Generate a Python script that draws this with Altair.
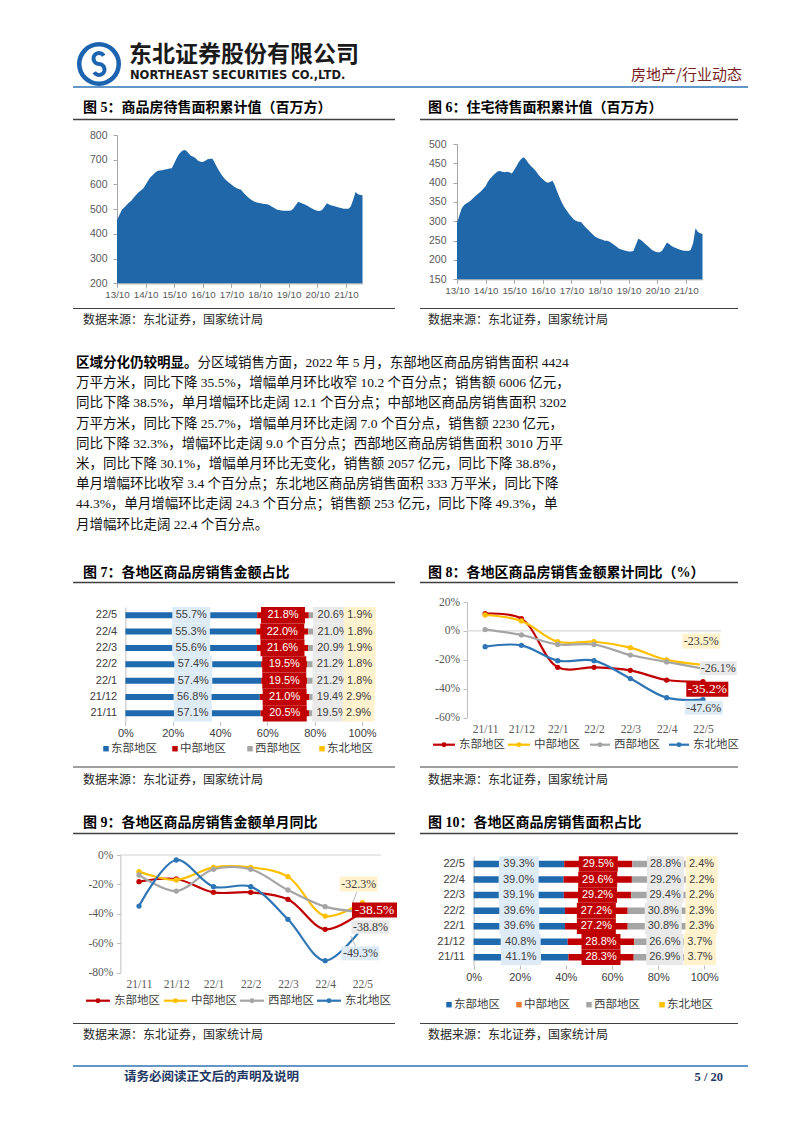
import altair as alt
import pandas as pd

# ------------------------------------------------------------------ data
months7 = ["21/11", "21/12", "22/1", "22/2", "22/3", "22/4", "22/5"]
regions = ["东部地区", "中部地区", "西部地区", "东北地区"]

stock_first_month = "2013-10-01"
stock_tick_years = [2013, 2014, 2015, 2016, 2017, 2018, 2019, 2020, 2021]
y5_ticks = [200, 300, 400, 500, 600, 700, 800]
y6_ticks = [150, 200, 250, 300, 350, 400, 450, 500]
pct_ticks = [0, 20, 40, 60, 80, 100]
cum_ticks = [-60, -40, -20, 0, 20]
mon_ticks = [-80, -60, -40, -20, 0]

# 商品房待售面积 (百万方), monthly 2013/10 - 2022/05
stock_commercial = [
    456, 476, 497,
    507, 517, 526, 534, 546, 557, 567, 575, 584, 598, 615, 629,
    638, 648, 654, 656, 657, 660, 661, 664, 665, 685, 706, 722,
    733, 739, 737, 726, 716, 712, 706, 696, 692, 691, 696, 702,
    704, 704, 688, 669, 652, 637, 625, 615, 607, 600, 592, 586,
    582, 578, 567, 557, 548, 540, 534, 529, 526, 525, 522, 521,
    520, 516, 510, 505, 499, 497, 495, 494, 494, 494, 495, 503,
    517, 530, 526, 522, 518, 513, 507, 502, 497, 494, 493, 497,
    510, 524, 519, 515, 513, 510, 507, 505, 502, 502, 502, 510,
    537, 569, 561, 557, 556]
# 住宅待售面积 (百万方)
stock_residential = [
    295, 316, 334,
    342, 347, 350, 355, 361, 367, 372, 377, 384, 391, 403, 411,
    418, 424, 429, 430, 428, 427, 428, 427, 424, 433, 443, 454,
    462, 466, 459, 450, 443, 437, 431, 422, 414, 409, 403, 400,
    402, 405, 394, 377, 362, 348, 337, 328, 319, 312, 305, 301,
    299, 298, 291, 284, 278, 272, 266, 260, 257, 254, 252, 250,
    250, 247, 243, 239, 234, 229, 227, 225, 223, 222, 222, 223,
    239, 255, 252, 247, 241, 236, 230, 225, 222, 220, 220, 224,
    234, 245, 241, 236, 233, 230, 228, 226, 224, 224, 223, 226,
    243, 282, 273, 269, 267]

# 图7 销售金额占比 (%)
amt_share_east = [57.1, 56.8, 57.4, 57.4, 55.6, 55.3, 55.7]
amt_share_central = [20.5, 21.0, 19.5, 19.5, 21.6, 22.0, 21.8]
amt_share_west = [19.5, 19.4, 21.2, 21.2, 20.9, 21.0, 20.6]
amt_share_ne = [2.9, 2.9, 1.8, 1.8, 1.9, 1.8, 1.9]

# 图8 销售金额累计同比 (%)
amt_cum_east = [11.9, 8.5, -25.2, -25.2, -27.3, -34.0, -35.2]
amt_cum_central = [11.0, 6.9, -7.5, -7.5, -11.6, -20.1, -23.5]
amt_cum_west = [0.9, -2.8, -9.4, -9.4, -16.7, -21.5, -26.1]
amt_cum_ne = [-10.9, -10.0, -20.6, -20.6, -33.0, -46.2, -47.6]

# 图9 销售金额单月同比 (%)
amt_mon_east = [-18.1, -16.3, -25.4, -25.4, -30.1, -50.5, -38.5]
amt_mon_central = [-11.3, -17.0, -8.4, -8.4, -14.7, -41.5, -32.3]
amt_mon_west = [-13.6, -24.5, -9.7, -9.7, -23.8, -35.1, -38.8]
amt_mon_ne = [-34.7, -3.4, -21.5, -21.5, -43.7, -71.8, -49.3]

# 图10 销售面积占比 (%)
area_share_east = [41.1, 40.8, 39.6, 39.6, 39.1, 39.0, 39.3]
area_share_central = [28.3, 28.8, 27.2, 27.2, 29.2, 29.6, 29.5]
area_share_west = [26.9, 26.6, 30.8, 30.8, 29.4, 29.2, 28.8]
area_share_ne = [3.7, 3.7, 2.3, 2.3, 2.2, 2.2, 2.4]

# ------------------------------------------------------------------ texts
company_cn = "东北证券股份有限公司"
company_en = "NORTHEAST SECURITIES CO.,LTD."
section = "房地产/行业动态"
fig_titles = [
    "图 5：商品房待售面积累计值（百万方）",
    "图 6：住宅待售面积累计值（百万方）",
    "图 7：各地区商品房销售金额占比",
    "图 8：各地区商品房销售金额累计同比（%）",
    "图 9：各地区商品房销售金额单月同比",
    "图 10：各地区商品房销售面积占比",
]
source_text = "数据来源：东北证券，国家统计局"
para_bold = "区域分化仍较明显。"
para_lines = [
    "分区域销售方面，2022 年 5 月，东部地区商品房销售面积 4424",
    "万平方米，同比下降 35.5%，增幅单月环比收窄 10.2 个百分点；销售额 6006 亿元，",
    "同比下降 38.5%，单月增幅环比走阔 12.1 个百分点；中部地区商品房销售面积 3202",
    "万平方米，同比下降 25.7%，增幅单月环比走阔 7.0 个百分点，销售额 2230 亿元，",
    "同比下降 32.3%，增幅环比走阔 9.0 个百分点；西部地区商品房销售面积 3010 万平",
    "米，同比下降 30.1%，增幅单月环比无变化，销售额 2057 亿元，同比下降 38.8%，",
    "单月增幅环比收窄 3.4 个百分点；东北地区商品房销售面积 333 万平米，同比下降",
    "44.3%，单月增幅环比走阔 24.3 个百分点；销售额 253 亿元，同比下降 49.3%，单",
    "月增幅环比走阔 22.4 个百分点。",
]
footer_left = "请务必阅读正文后的声明及说明"
footer_right = "5 / 20"

# ------------------------------------------------------------------ styles
SANS = "Liberation Sans, Noto Sans CJK SC, sans-serif"
SERIF = "Liberation Serif, Noto Sans CJK SC, serif"
CJK = "Noto Sans CJK SC, sans-serif"
BLUE = "#1F6AAE"
AREA = "#1F67A9"
RED = "#C00000"
GRAY = "#A5A5A5"
YELLOW = "#FFC000"
ORANGE = "#ED7D31"
LBLUE = "#2E75B6"
BOX_BLUE = "#DDEBF7"
BOX_GRAY = "#E9E9E9"
BOX_YEL = "#FFF2CC"
AX = "#BFBFBF"

one = pd.DataFrame({"k": [0]})


def T(s, x, y, size, o, color="#1A1A1A", weight="normal", font=CJK, align="left"):
    return alt.Chart(one).mark_text(
        text=s, fontSize=size, color=color, fontWeight=weight, font=font,
        align=align, baseline="middle").encode(x=alt.value(x - o[0]), y=alt.value(y - o[1]))


def HL(x1, x2, y, color, w, o):
    return alt.Chart(one).mark_rule(color=color, strokeWidth=w).encode(
        x=alt.value(x1 - o[0]), x2=alt.value(x2 - o[0]), y=alt.value(y - o[1]))


def SEG(x1, y1, x2, y2, color, w, o):
    return alt.Chart(one).mark_rule(color=color, strokeWidth=w).encode(
        x=alt.value(x1 - o[0]), x2=alt.value(x2 - o[0]),
        y=alt.value(y1 - o[1]), y2=alt.value(y2 - o[1]))


def RECT(cx, cy, w, h, fill, o):
    return alt.Chart(one).mark_rect(color=fill).encode(
        x=alt.value(cx - w / 2 - o[0]), x2=alt.value(cx + w / 2 - o[0]),
        y=alt.value(cy - h / 2 - o[1]), y2=alt.value(cy + h / 2 - o[1]))


def spacer(w, h):
    return alt.Chart(one).mark_point(opacity=0).encode(
        x=alt.value(0), y=alt.value(0)).properties(width=w, height=h)


def pct(v):
    return f"{v:.1f}%"


# ------------------------------------------------------------------ canvas (page furniture)
O = (8, 8)
cv = []
# logo
cv.append(alt.Chart(one).mark_arc(radius=22, radius2=17.5, theta=0, theta2=6.2832, color="#1C63B0")
          .encode(x=alt.value(96 - 8), y=alt.value(61 - 8)))
cv.append(alt.Chart(one).mark_arc(radius=7.5, radius2=3.5, theta=3.1416, theta2=7.3304, color="#1C63B0")
          .encode(x=alt.value(96 - 8), y=alt.value(55.5 - 8)))
cv.append(alt.Chart(one).mark_arc(radius=7.5, radius2=3.5, theta=0, theta2=4.1888, color="#1C63B0")
          .encode(x=alt.value(96 - 8), y=alt.value(66.5 - 8)))
cv.append(T(company_cn, 126, 52, 23, O, weight="bold"))
cv.append(T(company_en, 127, 73, 11.5, O, weight="bold", font="DejaVu Sans"))
cv.append(T(section, 739, 72, 15, O, color="#7A1F1F", align="right"))
cv.append(HL(70, 745, 84, LBLUE, 1.5, O))

# figure titles, rules, sources
title_pos = [(80, 105), (425, 105), (80, 570), (425, 570), (80, 820), (425, 820)]
for s, (x, y) in zip(fig_titles, title_pos):
    cv.append(T(s, x, y, 14, O, color="#000000", weight="bold", font=SERIF))
for y in [116.5, 579.5, 830.5]:
    cv.append(HL(70, 392, y, "#404040", 1.5, O))
    cv.append(HL(417, 735, y, "#404040", 1.5, O))
for y_rule, y_txt in [(305.5, 317), (764, 776.5), (1020.5, 1032)]:
    cv.append(HL(70, 392, y_rule, "#404040", 1.2, O))
    cv.append(HL(417, 735, y_rule, "#404040", 1.2, O))
    cv.append(T(source_text, 80, y_txt, 12, O, color="#262626"))
    cv.append(T(source_text, 425, y_txt, 12, O, color="#262626"))

# paragraph
P0, PY, PS, PF = 73, 360, 20.2, 13.5
cv.append(T(para_bold, P0, PY, PF, O, color="#000000", weight="bold", font=SERIF))
for i, line in enumerate(para_lines):
    x = P0 + (len(para_bold) * PF if i == 0 else 0)
    cv.append(T(line, x, PY + i * PS, PF, O, color="#111111", font=SERIF))

# legends
def square_legend(xs, y, cols):
    out = []
    for r, x, c in zip(regions, xs, cols):
        out.append(alt.Chart(one).mark_square(size=30, color=c, opacity=1)
                   .encode(x=alt.value(x - 8), y=alt.value(y - 8)))
        out.append(T(r, x + 5, y, 11.5, O, color="#404040"))
    return out


def line_legend(segs, y, cols):
    out = []
    for r, (a, b), c in zip(regions, segs, cols):
        out.append(HL(a, b, y, c, 2.2, O))
        out.append(alt.Chart(one).mark_circle(size=24, color=c, opacity=1)
                   .encode(x=alt.value((a + b) / 2 - 8), y=alt.value(y - 8)))
        out.append(T(r, b + 4, y, 11.5, O, color="#404040"))
    return out


LINE_COLS = [RED, YELLOW, GRAY, LBLUE]
cv += square_legend([103, 172, 247, 319], 745.7, [BLUE, RED, GRAY, YELLOW])
cv += square_legend([446, 516, 586, 659], 1001.7, [BLUE, ORANGE, GRAY, YELLOW])
cv += line_legend([(430, 452), (505, 527), (587, 607), (666, 686)], 741.7, LINE_COLS)
cv += line_legend([(83, 107), (161, 184), (237, 261), (314, 338)], 997.7, LINE_COLS)

# footer
cv.append(HL(70, 745, 1063, LBLUE, 1.5, O))
cv.append(T(footer_left, 121, 1074, 12.5, O, color="#1F3864", weight="bold"))
cv.append(T(footer_right, 720, 1074, 12.5, O, color="#1F3864", weight="bold", font=SERIF, align="right"))

canvas = alt.layer(*cv).properties(width=105.3, height=123.7)

# ------------------------------------------------------------------ fig 5 / 6 (area)
def DT(y, m):
    return alt.DateTime(year=y, month=m, date=1, utc=True)


def area_chart(values, ticks, width, height, yrange, lab_pad):
    dates = pd.date_range(stock_first_month, periods=len(values), freq="MS").strftime("%Y-%m-%d")
    df = pd.DataFrame({"date": list(dates), "v": values})
    last = pd.Timestamp(dates[-1])
    xs = alt.Scale(type="utc", domain=[DT(2013, 10), DT(last.year, last.month)], nice=False)
    xa = alt.Axis(values=[DT(y, 10) for y in stock_tick_years], format="%y/%m", title=None,
                  grid=False, labelAngle=0, labelFlush=False, labelOverlap=False,
                  labelFont=SANS, labelFontSize=9.8, labelColor="#595959",
                  domainColor="#A6A6A6", tickColor="#A6A6A6", tickSize=4, labelPadding=2)
    ys = alt.Scale(domain=[ticks[0], ticks[-1]], nice=False, zero=False, range=yrange)
    ya = alt.Axis(values=ticks, title=None, grid=False, labelFont=SANS, labelFontSize=10.5,
                  labelColor="#595959", domainColor="#A6A6A6", tickColor="#A6A6A6",
                  tickSize=4, labelPadding=lab_pad)
    return alt.Chart(df).mark_area(color=AREA, opacity=1).encode(
        x=alt.X("date:T", scale=xs, axis=xa),
        y=alt.Y("v:Q", scale=ys, axis=ya),
        y2=alt.datum(ticks[0]),
    ).properties(width=width, height=height)


fig5 = area_chart(stock_commercial, y5_ticks, 245.5, 148.3, [148.3, 0], 6)
fig6 = area_chart(stock_residential, y6_ticks, 245.5, 144.3, [144.3, 9], 7)

# ------------------------------------------------------------------ fig 7 / 10 (100% bars)
def share_chart(lists, bar_cols, box_fills, text_cols, box_w, x_off, plot_w, y_off, plot_h,
                bar_size, ypad):
    rows = []
    for ri, (r, vals) in enumerate(zip(regions, lists)):
        for m, v in zip(months7, vals):
            rows.append({"month": m, "region": r, "ord": ri, "value": v})
    df = pd.DataFrame(rows)
    rev = months7[::-1]
    xsc = alt.Scale(domain=[0, 100], nice=False, zero=False, range=[x_off, x_off + plot_w])
    ysc = alt.Scale(domain=rev, range=[y_off, y_off + plot_h], paddingInner=0, paddingOuter=0)
    xax = alt.Axis(values=pct_ticks, labelExpr="datum.value + '%'", title=None, grid=False,
                   domain=False, ticks=True, tickSize=4, tickColor=AX, labelFlush=False,
                   labelOverlap=False, labelFont=SANS, labelFontSize=11, labelColor="#404040",
                   labelPadding=2)
    yax = alt.Axis(title=None, domainColor=AX, ticks=False, tickSize=0, labelFont=SANS,
                   labelFontSize=11, labelColor="#404040", labelPadding=ypad, offset=-x_off)
    base = alt.Chart(df).transform_stack(
        stack="value", groupby=["month"], as_=["x0", "x1"],
        sort=[alt.SortField("ord", order="ascending")]
    ).transform_calculate(mid="(datum.x0 + datum.x1) / 2",
                          label="format(datum.value, '.1f') + '%'")
    Y = alt.Y("month:N", scale=ysc, axis=yax)
    layers = [base.mark_bar(size=bar_size).encode(
        x=alt.X("x0:Q", scale=xsc, axis=xax), x2="x1:Q", y=Y,
        color=alt.Color("region:N", scale=alt.Scale(domain=regions, range=bar_cols), legend=None))]
    for i, r in enumerate(regions):
        hw = box_w[i] / 2 * 100 / plot_w
        sub = base.transform_filter(alt.datum.region == r).transform_calculate(
            lo=f"datum.mid - {hw}", hi=f"datum.mid + {hw}")
        layers.append(sub.mark_rect(color=box_fills[i]).encode(
            x=alt.X("lo:Q", scale=xsc, axis=xax), x2="hi:Q", y=Y))
        layers.append(sub.mark_text(font=SANS, fontSize=11, color=text_cols[i]).encode(
            x=alt.X("mid:Q", scale=xsc, axis=xax), y=Y, text="label:N"))
    return alt.layer(*layers).properties(width=x_off + plot_w, height=y_off + plot_h)


fig7 = share_chart([amt_share_east, amt_share_central, amt_share_west, amt_share_ne],
                   [BLUE, RED, GRAY, YELLOW], [BOX_BLUE, RED, BOX_GRAY, BOX_YEL],
                   ["#404040", "#FFFFFF", "#404040", "#404040"], [38, 44, 40, 32],
                   8.4, 236.6, 5.1, 114.4, 6, 8.7)
fig10 = share_chart([area_share_east, area_share_central, area_share_west, area_share_ne],
                    [BLUE, ORANGE, GRAY, YELLOW], [BOX_BLUE, RED, BOX_GRAY, BOX_YEL],
                    ["#404040", "#FFFFFF", "#404040", "#404040"], [40, 39, 37, 32],
                    16.6, 230.7, 1.2, 108.9, 6.5, 9.3)

# ------------------------------------------------------------------ fig 8 / 9 (lines)
def line_chart(series, ticks, x_off, plot_w, cell_h, origin, labels, leaders, xpad):
    xsc = alt.Scale(type="point", domain=months7, range=[x_off, x_off + plot_w], padding=0.5)
    ysc = alt.Scale(domain=[ticks[0], ticks[-1]], nice=False, zero=False)
    xax = alt.Axis(title=None, domain=False, ticks=False, tickSize=0, labelAngle=0,
                   labelFont=SERIF, labelFontSize=11.5, labelColor="#595959", labelPadding=xpad)
    yax = alt.Axis(values=ticks, labelExpr="datum.value + '%'", title=None, grid=False,
                   domainColor=AX, tickColor=AX, tickSize=4, labelFont=SERIF,
                   labelFontSize=11.5, labelColor="#595959", labelPadding=3.5, offset=-x_off)
    layers = [alt.Chart(one).mark_rule(color="#D0D0D0", strokeWidth=1).encode(
        y=alt.YDatum(0, scale=ysc, axis=yax), x=alt.value(x_off), x2=alt.value(x_off + plot_w))]
    for vals, c in zip(series, LINE_COLS):
        d = pd.DataFrame({"month": months7, "value": vals})
        enc = dict(x=alt.X("month:N", scale=xsc, axis=xax), y=alt.Y("value:Q", scale=ysc, axis=yax))
        layers.append(alt.Chart(d).mark_line(color=c, strokeWidth=2.2,
                                             interpolate="catmull-rom").encode(**enc))
        layers.append(alt.Chart(d).mark_point(color=c, filled=True, size=28, opacity=1).encode(**enc))
    for (x1, y1, x2, y2) in leaders:
        layers.append(SEG(x1, y1, x2, y2, "#A6A6A6", 0.8, origin))
    for (s, cx, cy, w, h, fill, tc, fs) in labels:
        layers.append(RECT(cx, cy, w, h, fill, origin))
        layers.append(T(s, cx, cy, fs, origin, color=tc, font=SERIF, align="center"))
    return alt.layer(*layers).properties(width=x_off + plot_w, height=cell_h)


fig8 = line_chart(
    [amt_cum_east, amt_cum_central, amt_cum_west, amt_cum_ne], cum_ticks,
    10, 254.1, 115.6, (452.7, 597.7),
    [(pct(amt_cum_central[-1]), 697, 637, 38, 15, BOX_YEL, "#404040", 12),
     (pct(amt_cum_west[-1]), 714, 664, 37, 14, BOX_GRAY, "#404040", 12),
     (pct(amt_cum_east[-1]), 703, 685, 42, 15, RED, "#FFFFFF", 13.5),
     (pct(amt_cum_ne[-1]), 699.5, 703.5, 38, 14, BOX_BLUE, "#404040", 12)],
    [], 6)
fig9 = line_chart(
    [amt_mon_east, amt_mon_central, amt_mon_west, amt_mon_ne], mon_ticks,
    3.4, 260.6, 117.7, (113.3, 850),
    [(pct(amt_mon_central[-1]), 355, 879, 38, 15, BOX_YEL, "#404040", 12),
     (pct(amt_mon_east[-1]), 370.8, 905, 45, 15, RED, "#FFFFFF", 13.5),
     (pct(amt_mon_west[-1]), 366.7, 922, 38, 13.5, BOX_GRAY, "#404040", 12),
     (pct(amt_mon_ne[-1]), 356.7, 948.3, 38, 14, BOX_BLUE, "#404040", 12)],
    [(353, 887, 349, 898), (352, 941.5, 347, 931)], 5.5)

# ------------------------------------------------------------------ page grid
cells = [
    canvas, spacer(1, 1), spacer(75.4, 1), spacer(1, 1),
    spacer(1, 1), fig5, spacer(1, 1), fig6,
    spacer(1, 317.7), spacer(1, 1), spacer(1, 1), spacer(1, 1),
    spacer(1, 1), fig7, spacer(1, 1), fig8,
    spacer(1, 132.8), spacer(1, 1), spacer(1, 1), spacer(1, 1),
    spacer(1, 1), fig9, spacer(1, 1), fig10,
]
chart = alt.concat(*cells, columns=4, spacing=0, bounds="flush", align="each").properties(
    padding=0).configure_view(stroke=None)

chart.save("out.html", embed_options={"renderer": "svg", "actions": False})
